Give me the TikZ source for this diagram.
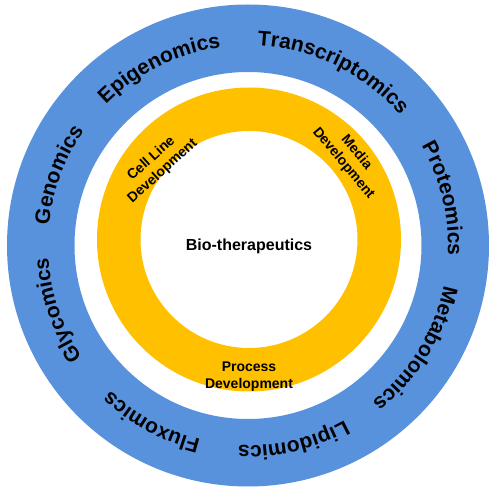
\documentclass[tikz,border=0pt]{standalone}
\usepackage{fontspec}
\setmainfont{Liberation Sans}
\usetikzlibrary{decorations.text,calc}
\definecolor{ringblue}{RGB}{89,146,220}
\definecolor{ringgold}{RGB}{255,192,0}
\tikzset{
  omics/.style={decorate, decoration={text along path, text align=center,
     text={|\fontsize{21}{21}\selectfont\bfseries|#1}}},
  innerlbl/.style={font=\fontsize{14}{17}\selectfont\bfseries, align=center, inner sep=0pt},
}
\newcommand{\omicarc}[2]{%
  \path[omics={#2}] ($(bc)+({#1+45}:200)$) arc[start angle={#1+45}, end angle={#1-45}, radius=200];}
\begin{document}
\begin{tikzpicture}[x=1pt,y=1pt]
\useasboundingbox (0,0) rectangle (499,-492);
\coordinate (bc) at (248,-245.5);
\coordinate (oc) at (249,-239.5);
% rings
\fill[ringblue, even odd rule] (bc) circle (241) (bc) circle (173.5);
\fill[ringgold, even odd rule] (oc) circle (152) (oc) circle (108.5);
% outer labels
\omicarc{159.6}{Genomics}
\omicarc{116.5}{Epigenomics}
\omicarc{63.9}{Transcriptomics}
\omicarc{13.5}{Proteomics}
\omicarc{-31.6}{Metabolomics}
\omicarc{-76.9}{Lipidomics}
\omicarc{-118.6}{Fluxomics}
\omicarc{-161.3}{Glycomics}
% inner labels
\node[innerlbl, rotate=42] (cell) at (157,-165) {Cell Line\\Development};
\node[innerlbl, rotate=-50] (media) at (350,-158) {Media\\Development};
\node[innerlbl] (process) at (249,-377) {Process\\Development};
\node[font=\fontsize{16}{18}\selectfont\bfseries, inner sep=0pt] (bio) at (249,-246.5) {Bio-therapeutics};
\end{tikzpicture}
\end{document}
